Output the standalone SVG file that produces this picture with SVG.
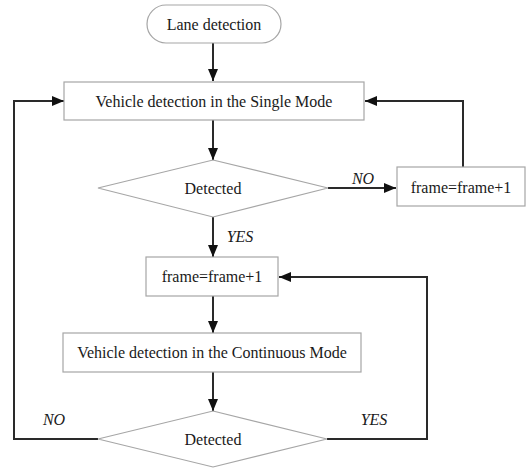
<svg xmlns="http://www.w3.org/2000/svg" width="527" height="469" viewBox="0 0 527 469">
  <style>
    .box { fill: #ffffff; stroke: #a6a6a6; stroke-width: 1.2; }
    .lbl { font-family: "Liberation Serif", "Times New Roman", serif; font-size: 16px; fill: #1a1a1a; text-anchor: middle; }
    .cond { font-family: "Liberation Serif", "Times New Roman", serif; font-size: 16px; font-style: italic; fill: #1a1a1a; text-anchor: middle; }
    .wire { fill: none; stroke: #2a2a2a; stroke-width: 2; }
  </style>
  <defs>
    <marker id="arrow" viewBox="0 0 12 10" refX="12" refY="5" markerWidth="12" markerHeight="10" markerUnits="userSpaceOnUse" orient="auto">
      <path d="M0,0 L12,5 L0,10 Z" fill="#111111"/>
    </marker>
  </defs>
  <rect width="527" height="469" fill="#ffffff"/>

  <g id="connectors">
    <line class="wire" x1="213" y1="43" x2="213" y2="81" marker-end="url(#arrow)"/>
    <line class="wire" x1="213" y1="120" x2="213" y2="160" marker-end="url(#arrow)"/>
    <line class="wire" x1="328" y1="188" x2="396" y2="188" marker-end="url(#arrow)"/>
    <polyline class="wire" points="463,167 463,101 365,101" marker-end="url(#arrow)"/>
    <line class="wire" x1="213" y1="217" x2="213" y2="257" marker-end="url(#arrow)"/>
    <line class="wire" x1="213" y1="296" x2="213" y2="333" marker-end="url(#arrow)"/>
    <line class="wire" x1="213" y1="372" x2="213" y2="411" marker-end="url(#arrow)"/>
    <polyline class="wire" points="98,439 14,439 14,101 64,101" marker-end="url(#arrow)"/>
    <polyline class="wire" points="327,439 427,439 427,277 279,277" marker-end="url(#arrow)"/>
    <text class="cond" x="363" y="184">NO</text>
    <text class="cond" x="240" y="242">YES</text>
    <text class="cond" x="54" y="425">NO</text>
    <text class="cond" x="374" y="425">YES</text>
  </g>

  <g id="lane-detection">
    <rect class="box" x="147" y="5" width="134" height="38" rx="19" ry="19"/>
    <text class="lbl" x="214" y="30">Lane detection</text>
  </g>

  <g id="single-mode">
    <rect class="box" x="64" y="82" width="300" height="38"/>
    <text class="lbl" x="214" y="107">Vehicle detection in the Single Mode</text>
  </g>

  <g id="detected-single">
    <polygon class="box" points="213,160 328,188 213,217 98,188"/>
    <text class="lbl" x="213" y="194">Detected</text>
  </g>

  <g id="frame-next-single">
    <rect class="box" x="397" y="167" width="128" height="39"/>
    <text class="lbl" x="461" y="193">frame=frame+1</text>
  </g>

  <g id="frame-next-continuous">
    <rect class="box" x="146" y="257" width="132" height="39"/>
    <text class="lbl" x="212" y="282">frame=frame+1</text>
  </g>

  <g id="continuous-mode">
    <rect class="box" x="63" y="333" width="298" height="39"/>
    <text class="lbl" x="212" y="358">Vehicle detection in the Continuous Mode</text>
  </g>

  <g id="detected-continuous">
    <polygon class="box" points="213,411 327,439 213,467 98,439"/>
    <text class="lbl" x="213" y="445">Detected</text>
  </g>
</svg>
